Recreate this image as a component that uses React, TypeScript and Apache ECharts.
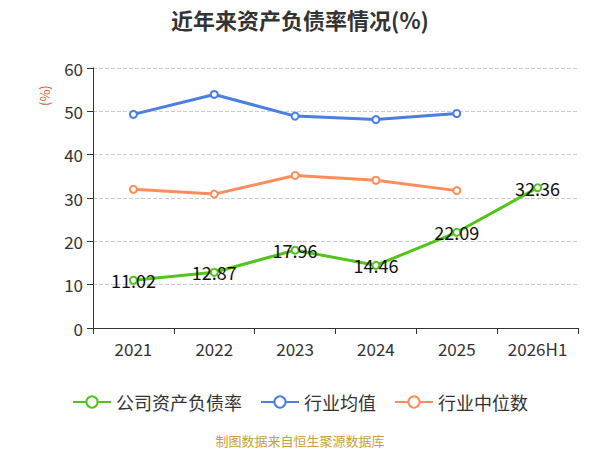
import React, { useEffect, useRef } from "react";
import * as echarts from "echarts";

const categories = ["2021", "2022", "2023", "2024", "2025", "2026H1"];
const companyRatio = [11.02, 12.87, 17.96, 14.46, 22.09, 32.36];
const industryAvg = [49.3, 53.9, 48.9, 48.1, 49.5, null];
const industryMedian = [32.0, 30.9, 35.2, 34.1, 31.7, null];
const seriesNames = ["公司资产负债率", "行业均值", "行业中位数"];
const colors = ["#52c41a", "#4a7ee0", "#ff8c5a"];

export default function App() {
  const ref = useRef<HTMLDivElement>(null);
  useEffect(() => {
    const chart = echarts.init(ref.current!, null, { renderer: "svg" });
    const font = "'Microsoft YaHei', 'Noto Sans CJK SC', sans-serif";
    chart.setOption({
      animation: false,
      textStyle: { fontFamily: font },
      title: {
        text: "近年来资产负债率情况(%)",
        left: "center",
        top: 3,
        textStyle: { fontSize: 22, fontWeight: "bold", color: "#333", fontFamily: font },
      },
      grid: { left: 93, right: 22, top: 68, bottom: 122 },
      legend: {
        bottom: 34,
        left: "center",
        itemWidth: 38,
        itemHeight: 14,
        itemGap: 18,
        textStyle: { fontSize: 18, color: "#333", fontFamily: font },
        data: seriesNames,
      },
      graphic: [
        {
          type: "text",
          x: 38,
          y: 106,
          rotation: Math.PI / 2,
          style: { text: "(%)", fill: "#e0542a", fontSize: 13, fontFamily: font },
        },
        {
          type: "text",
          left: "center",
          top: 434,
          style: { text: "制图数据来自恒生聚源数据库", fill: "#c9a040", fontSize: 13, fontFamily: font },
        },
      ],
      xAxis: {
        type: "category",
        data: categories,
        boundaryGap: true,
        axisLine: { lineStyle: { color: "#333" } },
        axisTick: { show: true, alignWithLabel: false, length: 6, lineStyle: { color: "#333" } },
        axisLabel: { fontSize: 17, color: "#333", margin: 12 },
      },
      yAxis: {
        type: "value",
        min: 0,
        max: 60,
        interval: 10,
        axisLine: { show: true, lineStyle: { color: "#333" } },
        axisTick: { show: true, length: 6, lineStyle: { color: "#333" } },
        axisLabel: { fontSize: 17, color: "#333", margin: 10 },
        splitLine: { lineStyle: { type: "dashed", color: "#ccc" } },
      },
      series: [
        {
          name: seriesNames[0],
          type: "line",
          data: companyRatio,
          symbol: "emptyCircle",
          symbolSize: 7,
          itemStyle: { color: colors[0] },
          lineStyle: { width: 3, color: colors[0] },
          label: { show: true, position: "inside", fontSize: 18, color: "#111" },
          z: 3,
        },
        {
          name: seriesNames[1],
          type: "line",
          data: industryAvg,
          symbol: "emptyCircle",
          symbolSize: 7,
          itemStyle: { color: colors[1] },
          lineStyle: { width: 3, color: colors[1] },
        },
        {
          name: seriesNames[2],
          type: "line",
          data: industryMedian,
          symbol: "emptyCircle",
          symbolSize: 7,
          itemStyle: { color: colors[2] },
          lineStyle: { width: 3, color: colors[2] },
        },
      ],
    });
    return () => chart.dispose();
  }, []);
  return <div ref={ref} style={{ width: 600, height: 450, position: "absolute", left: 0, top: 0 }} />;
}
